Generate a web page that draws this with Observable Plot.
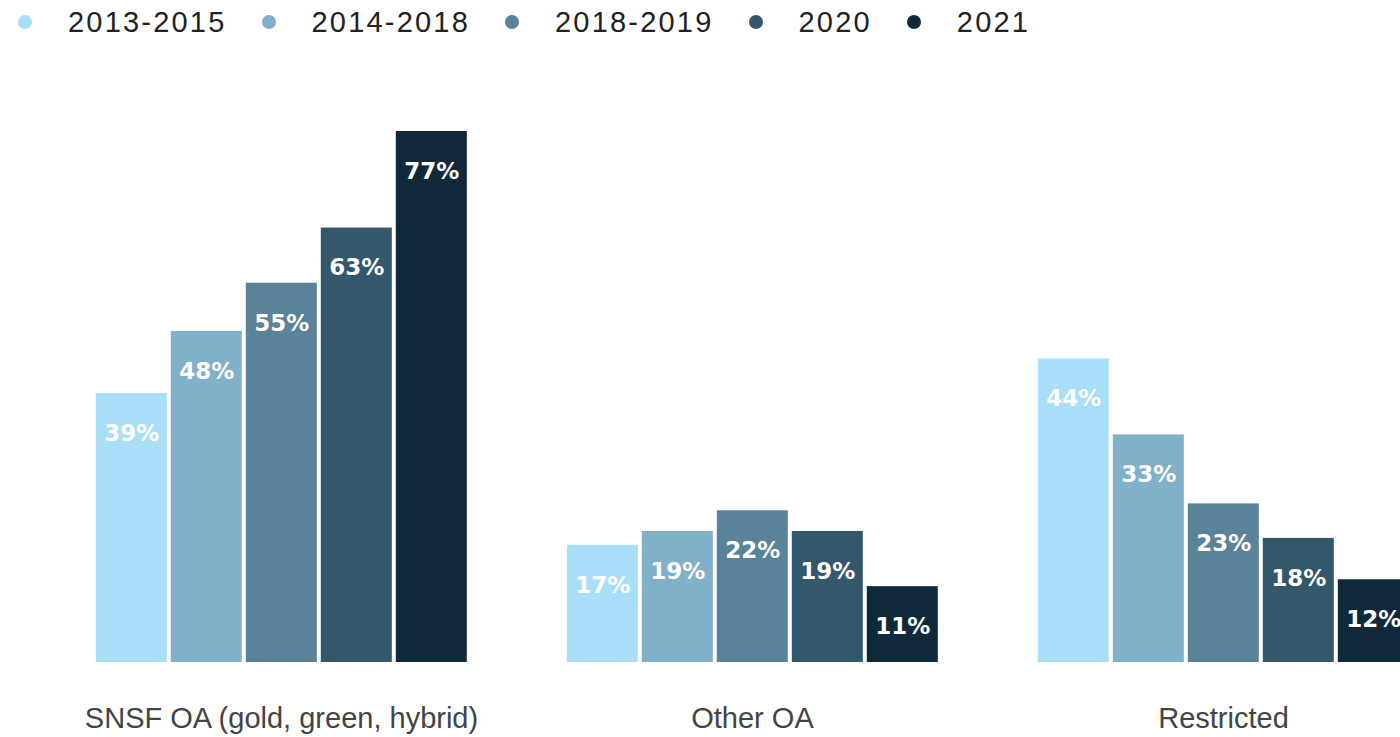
<!DOCTYPE html>
<html><head><meta charset="utf-8">
<script src="https://cdn.jsdelivr.net/npm/d3@7"></script>
<script src="https://cdn.jsdelivr.net/npm/@observablehq/plot@0.6"></script>
<style>
html,body{margin:0;padding:0;background:#fff;overflow:hidden}
#wrap{width:1400px;height:737px;overflow:hidden;position:relative;font-family:"Liberation Sans",Arial,sans-serif}
#legend{height:44px;display:flex;align-items:center;padding-left:18px;box-sizing:border-box}
.item{display:flex;align-items:center;margin-right:35px}
.sw{width:14px;height:14px;border-radius:50%;margin-right:36px}
.lab{font-size:29px;letter-spacing:2.2px;color:#222;line-height:1}
#chart svg{display:block;overflow:visible;max-width:none !important}
</style></head>
<body><div id="wrap"><div id="legend"></div><div id="chart"></div></div>
<script>
const groups = ["SNSF OA (gold, green, hybrid)", "Other OA", "Restricted"];
const periods = ["2013-2015", "2014-2018", "2018-2019", "2020", "2021"];
const colors = ["#a8def8", "#81b0c9", "#5a8299", "#33576b", "#0f293b"];
const snsfOA = [39, 48, 55, 63, 77];
const otherOA = [17, 19, 22, 19, 11];
const restricted = [44, 33, 23, 18, 12];

const series = [snsfOA, otherOA, restricted];
const data = [];
groups.forEach((g, gi) => periods.forEach((p, pi) => data.push({group: g, period: p, value: series[gi][pi]})));

const legend = document.getElementById("legend");
periods.forEach((p, i) => {
  const it = document.createElement("div"); it.className = "item";
  const sw = document.createElement("div"); sw.className = "sw"; sw.style.background = colors[i];
  const lb = document.createElement("div"); lb.className = "lab"; lb.textContent = p;
  it.appendChild(sw); it.appendChild(lb); legend.appendChild(it);
});

const chart = Plot.plot({
  width: 1414, height: 693,
  marginLeft: 91.2, marginRight: 0, marginTop: 87, marginBottom: 75,
  style: {fontFamily: '"Liberation Sans", Arial, sans-serif', background: "#fff", maxWidth: "none"},
  fx: {domain: groups, paddingInner: 0.1926, paddingOuter: 0, label: null},
  x: {domain: periods, padding: 0.05, axis: null},
  y: {domain: [0, 77], axis: null},
  color: {domain: periods, range: colors},
  marks: [
    Plot.barY(data, {fx: "group", x: "period", y: "value", fill: "period"}),
    Plot.text(data, {fx: "group", x: "period", y: "value", text: d => d.value + "%", dy: 40,
      fill: "white", fontWeight: "bold", fontSize: 23, fontFamily: '"DejaVu Sans", sans-serif'}),
    Plot.axisFx({anchor: "bottom", tickSize: 0, tickPadding: 45, fontSize: 29, fill: "#444", label: null})
  ]
});
document.getElementById("chart").appendChild(chart);
</script></body></html>
